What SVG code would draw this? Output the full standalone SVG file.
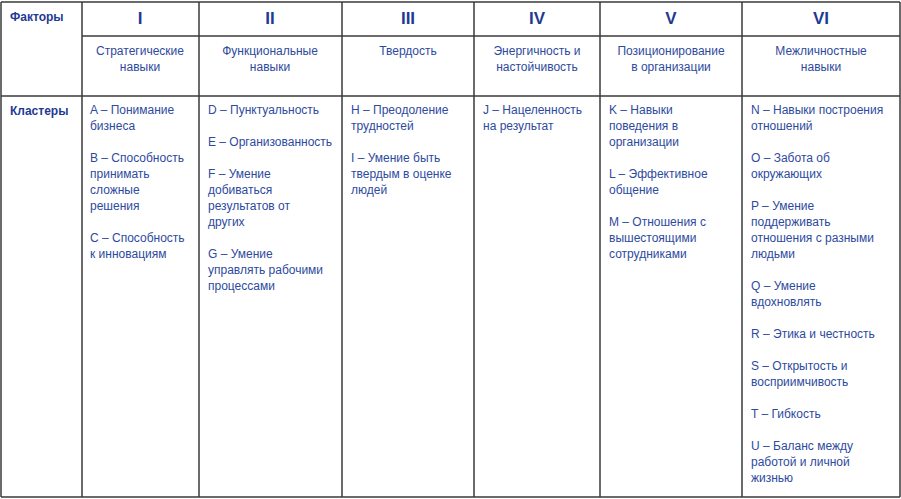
<svg xmlns="http://www.w3.org/2000/svg" width="901" height="499" viewBox="0 0 901 499">
<style>
.g line{stroke:#3a3a3a;stroke-width:1.5}
text{font-family:"Liberation Sans",Arial,sans-serif;font-size:12px;fill:#2e4a9e}
.b{font-weight:bold;fill:#1f3a93}
.r{font-weight:bold;font-size:17px;fill:#1f3a93}
.c{text-anchor:middle}
</style>
<rect x="0" y="0" width="901" height="499" fill="#fff"/>
<g class="g" id="grid">
<line x1="1" y1="2" x2="900" y2="2"/>
<line x1="82" y1="36" x2="900" y2="36"/>
<line x1="1" y1="96" x2="900" y2="96"/>
<line x1="1" y1="497" x2="900" y2="497"/>
<line x1="1" y1="2" x2="1" y2="497"/>
<line x1="82" y1="2" x2="82" y2="497"/>
<line x1="199" y1="2" x2="199" y2="497"/>
<line x1="342" y1="2" x2="342" y2="497"/>
<line x1="474" y1="2" x2="474" y2="497"/>
<line x1="600" y1="2" x2="600" y2="497"/>
<line x1="742" y1="2" x2="742" y2="497"/>
<line x1="900" y1="2" x2="900" y2="497"/>
</g>
<g id="header">
<text class="b" x="10" y="21">Факторы</text>
<text class="b" x="10" y="115">Кластеры</text>
<text class="r c" x="140" y="24">I</text>
<text class="r c" x="270" y="24">II</text>
<text class="r c" x="408" y="24">III</text>
<text class="r c" x="537" y="24">IV</text>
<text class="r c" x="671" y="24">V</text>
<text class="r c" x="821" y="24">VI</text>
<text class="c" x="140" y="55">Стратегические<tspan x="140" dy="16">навыки</tspan></text>
<text class="c" x="270" y="55">Функциональные<tspan x="270" dy="16">навыки</tspan></text>
<text class="c" x="408" y="55">Твердость</text>
<text class="c" x="537" y="55">Энергичность и<tspan x="537" dy="16">настойчивость</tspan></text>
<text class="c" x="671" y="55">Позиционирование<tspan x="671" dy="16">в организации</tspan></text>
<text class="c" x="821" y="55">Межличностные<tspan x="821" dy="16">навыки</tspan></text>
</g>
<g id="col1">
<text x="90" y="114">A – Понимание<tspan x="90" dy="16">бизнеса</tspan><tspan x="90" dy="32">B – Способность</tspan><tspan x="90" dy="16">принимать</tspan><tspan x="90" dy="16">сложные</tspan><tspan x="90" dy="16">решения</tspan><tspan x="90" dy="32">C – Способность</tspan><tspan x="90" dy="16">к инновациям</tspan></text>
</g>
<g id="col2">
<text x="208" y="114">D – Пунктуальность<tspan x="208" dy="32">E – Организованность</tspan><tspan x="208" dy="32">F – Умение</tspan><tspan x="208" dy="16">добиваться</tspan><tspan x="208" dy="16">результатов от</tspan><tspan x="208" dy="16">других</tspan><tspan x="208" dy="32">G – Умение</tspan><tspan x="208" dy="16">управлять рабочими</tspan><tspan x="208" dy="16">процессами</tspan></text>
</g>
<g id="col3">
<text x="351" y="114">H – Преодоление<tspan x="351" dy="16">трудностей</tspan><tspan x="351" dy="32">I – Умение быть</tspan><tspan x="351" dy="16">твердым в оценке</tspan><tspan x="351" dy="16">людей</tspan></text>
</g>
<g id="col4">
<text x="483" y="114">J – Нацеленность<tspan x="483" dy="16">на результат</tspan></text>
</g>
<g id="col5">
<text x="609" y="114">K – Навыки<tspan x="609" dy="16">поведения в</tspan><tspan x="609" dy="16">организации</tspan><tspan x="609" dy="32">L – Эффективное</tspan><tspan x="609" dy="16">общение</tspan><tspan x="609" dy="32">M – Отношения с</tspan><tspan x="609" dy="16">вышестоящими</tspan><tspan x="609" dy="16">сотрудниками</tspan></text>
</g>
<g id="col6">
<text x="751" y="114">N – Навыки построения<tspan x="751" dy="16">отношений</tspan><tspan x="751" dy="32">O – Забота об</tspan><tspan x="751" dy="16">окружающих</tspan><tspan x="751" dy="32">P – Умение</tspan><tspan x="751" dy="16">поддерживать</tspan><tspan x="751" dy="16">отношения с разными</tspan><tspan x="751" dy="16">людьми</tspan><tspan x="751" dy="32">Q – Умение</tspan><tspan x="751" dy="16">вдохновлять</tspan><tspan x="751" dy="32">R – Этика и честность</tspan><tspan x="751" dy="32">S – Открытость и</tspan><tspan x="751" dy="16">восприимчивость</tspan><tspan x="751" dy="32">T – Гибкость</tspan><tspan x="751" dy="32">U – Баланс между</tspan><tspan x="751" dy="16">работой и личной</tspan><tspan x="751" dy="16">жизнью</tspan></text>
</g>
</svg>
